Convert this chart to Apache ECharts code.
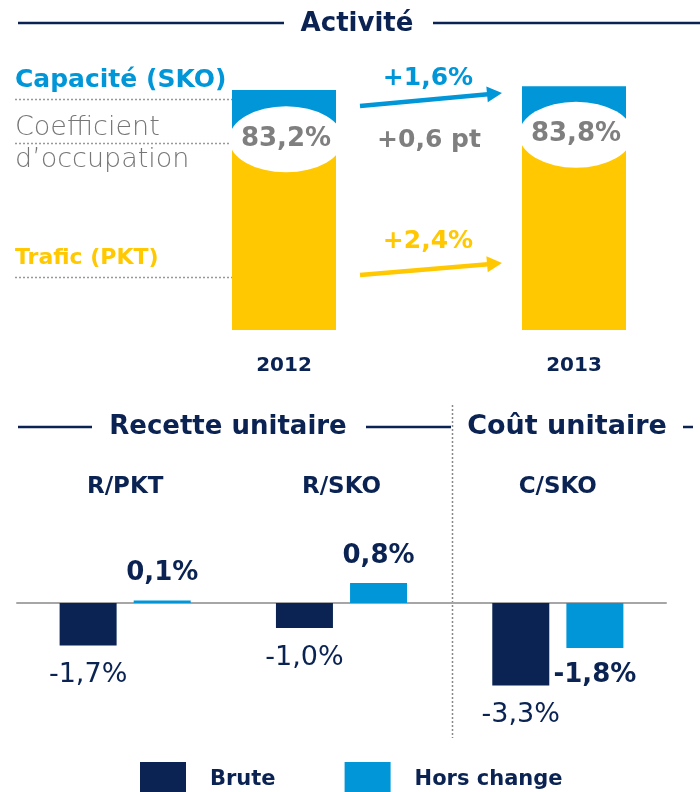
<!DOCTYPE html>
<html>
<head>
<meta charset="utf-8">
<script src="https://cdn.jsdelivr.net/npm/echarts@6/dist/echarts.min.js"></script>
<style>
html,body{margin:0;padding:0;background:#fff;}
#chart{width:700px;height:792px;}
</style>
</head>
<body>
<div id="chart"></div>
<script>
// ---- Data ----
var years = ['2012', '2013'];
var capacity = [100, 101.6];          // capacity index (SKO)
var loadFactor = [83.2, 83.8];        // load factor, %
var changeLabels = ['+1,6%', '+0,6 pt', '+2,4%'];  // capacité, coefficient, trafic

var unitCategories = ['R/PKT', 'R/SKO', 'C/SKO'];
var brute = [-1.7, -1.0, -3.3];
var horsChange = [0.1, 0.8, -1.8];

// ---- Styles ----
var NAVY = '#0a2352', BLUE = '#0096d7', YELLOW = '#ffc800', GRAY = '#7f7f7f';
var FONT = 'DejaVu Sans';

var traffic = capacity.map(function (c, i) { return c * loadFactor[i] / 100; });
var capTop = capacity.map(function (c, i) { return c - traffic[i]; });

function fmt(v) { return v.toFixed(1).replace('.', ',') + '%'; }

function barItems(arr) {
  return arr.map(function (v) {
    return { value: v, label: { position: v < 0 ? 'bottom' : 'top' } };
  });
}

function line(x1, y1, x2, y2, color, width, dash) {
  return {
    type: 'line', silent: true,
    shape: { x1: x1, y1: y1, x2: x2, y2: y2 },
    style: { stroke: color, lineWidth: width, lineDash: dash || null }
  };
}
function text(x, y, str, opts) {
  return {
    type: 'text', silent: true, x: x, y: y,
    style: Object.assign({
      text: str, fontFamily: FONT, textAlign: 'center', textVerticalAlign: 'middle'
    }, opts)
  };
}
function arrow(x1, y1, x2, y2, color) {
  var dx = x2 - x1, dy = y2 - y1, L = Math.sqrt(dx * dx + dy * dy);
  var ux = dx / L, uy = dy / L, nx = -uy, ny = ux;
  var hl = 15, hw = 8;
  var bx = x2 - ux * hl, by = y2 - uy * hl;
  return [
    line(x1, y1, bx + ux, by + uy, color, 4.5),
    {
      type: 'polygon', silent: true,
      shape: { points: [[x2, y2], [bx + nx * hw, by + ny * hw], [bx - nx * hw, by - ny * hw]] },
      style: { fill: color }
    }
  ];
}

var dotted = [2, 2];
var graphics = [
  text(357, 24, 'Activité', { fontSize: 26, fontWeight: 'bold', fill: NAVY }),
  line(18, 23, 284, 23, NAVY, 2.5),
  line(433, 23, 700, 23, NAVY, 2.5),
  text(15, 80, 'Capacité (SKO)', { fontSize: 25, fontWeight: 'bold', fill: BLUE, textAlign: 'left' }),
  line(15, 99.5, 232, 99.5, '#999', 1.5, dotted),
  text(15, 128, 'Coefficient', { fontSize: 27, fontWeight: 200, fill: '#767676', textAlign: 'left' }),
  line(15, 143.5, 232, 143.5, '#999', 1.5, dotted),
  text(15, 160, 'd’occupation', { fontSize: 27, fontWeight: 200, fill: '#767676', textAlign: 'left' }),
  text(15, 258, 'Trafic (PKT)', { fontSize: 22, fontWeight: 'bold', fill: YELLOW, textAlign: 'left' }),
  line(15, 277.5, 232, 277.5, '#999', 1.5, dotted),
  text(428, 78, changeLabels[0], { fontSize: 25, fontWeight: 'bold', fill: BLUE }),
  text(429, 140, changeLabels[1], { fontSize: 25, fontWeight: 'bold', fill: GRAY }),
  text(428, 241, changeLabels[2], { fontSize: 25, fontWeight: 'bold', fill: YELLOW }),
  text(228, 427, 'Recette unitaire', { fontSize: 26, fontWeight: 'bold', fill: NAVY }),
  line(18, 427, 92, 427, NAVY, 2.5),
  line(366, 427, 451, 427, NAVY, 2.5),
  text(567, 427, 'Coût unitaire', { fontSize: 27, fontWeight: 'bold', fill: NAVY }),
  line(683, 427, 693, 427, NAVY, 2.5),
  line(452.5, 405, 452.5, 738, '#888', 1.5, dotted)
].concat(arrow(360, 106, 502, 93, BLUE), arrow(360, 275, 502, 263, YELLOW));

var chart = echarts.init(document.getElementById('chart'), null, { renderer: 'canvas' });
chart.setOption({
  animation: false,
  backgroundColor: '#fff',
  grid: [
    { left: 284, top: 66, width: 290, height: 264 },
    { left: 17, top: 553, width: 649, height: 150 }
  ],
  xAxis: [
    {
      gridIndex: 0, type: 'category', data: years, boundaryGap: false,
      axisLine: { show: false }, axisTick: { show: false }, splitLine: { show: false },
      axisLabel: { margin: 26, fontFamily: FONT, fontSize: 20, fontWeight: 'bold', color: NAVY }
    },
    {
      gridIndex: 1, type: 'category', data: unitCategories,
      axisLine: { onZero: true, lineStyle: { color: '#a6a6a6', width: 2 } },
      axisTick: { show: false }, axisLabel: { show: false }
    },
    {
      gridIndex: 1, type: 'category', data: unitCategories, position: 'top',
      axisLine: { show: false, onZero: false }, axisTick: { show: false },
      axisLabel: { margin: 54, fontFamily: FONT, fontSize: 23, fontWeight: 'bold', color: NAVY }
    }
  ],
  yAxis: [
    { gridIndex: 0, type: 'value', min: 0, max: 110, show: false },
    { gridIndex: 1, type: 'value', min: -4, max: 2, show: false }
  ],
  legend: {
    data: ['Brute', 'Hors change'],
    left: 135, top: 757,
    itemWidth: 46, itemHeight: 36, itemGap: 69,
    icon: 'rect',
    textStyle: { fontFamily: FONT, fontSize: 21, fontWeight: 'bold', color: NAVY, padding: [0, 0, 0, 19] }
  },
  series: [
    {
      name: 'Trafic', type: 'bar', stack: 'act', xAxisIndex: 0, yAxisIndex: 0, clip: false,
      data: traffic, barWidth: 104, itemStyle: { color: YELLOW }
    },
    {
      name: 'Capacité', type: 'bar', stack: 'act', xAxisIndex: 0, yAxisIndex: 0, clip: false,
      data: capTop, barWidth: 104, itemStyle: { color: BLUE }
    },
    {
      name: 'Coefficient', type: 'scatter', xAxisIndex: 0, yAxisIndex: 0, clip: false,
      data: traffic, symbol: 'circle', symbolSize: [114, 66], symbolOffset: [2, 9],
      itemStyle: { color: '#fff', opacity: 1 }, z: 5,
      label: {
        show: true, position: 'inside', fontFamily: FONT, fontSize: 26, fontWeight: 'bold', color: GRAY,
        formatter: function (p) { return fmt(loadFactor[p.dataIndex]); }
      }
    },
    {
      name: 'Brute', type: 'bar', xAxisIndex: 1, yAxisIndex: 1,
      data: barItems(brute), barWidth: 57, barGap: '30%',
      itemStyle: { color: NAVY },
      label: {
        show: true, distance: 16, fontFamily: FONT, fontSize: 27, color: NAVY,
        formatter: function (p) { return fmt(p.value); }
      }
    },
    {
      name: 'Hors change', type: 'bar', xAxisIndex: 1, yAxisIndex: 1,
      data: barItems(horsChange), barWidth: 57, barGap: '30%',
      itemStyle: { color: BLUE },
      label: {
        show: true, distance: 14, fontFamily: FONT, fontSize: 26, fontWeight: 'bold', color: NAVY,
        formatter: function (p) { return fmt(p.value); }
      }
    }
  ],
  graphic: graphics
});
</script>
</body>
</html>
